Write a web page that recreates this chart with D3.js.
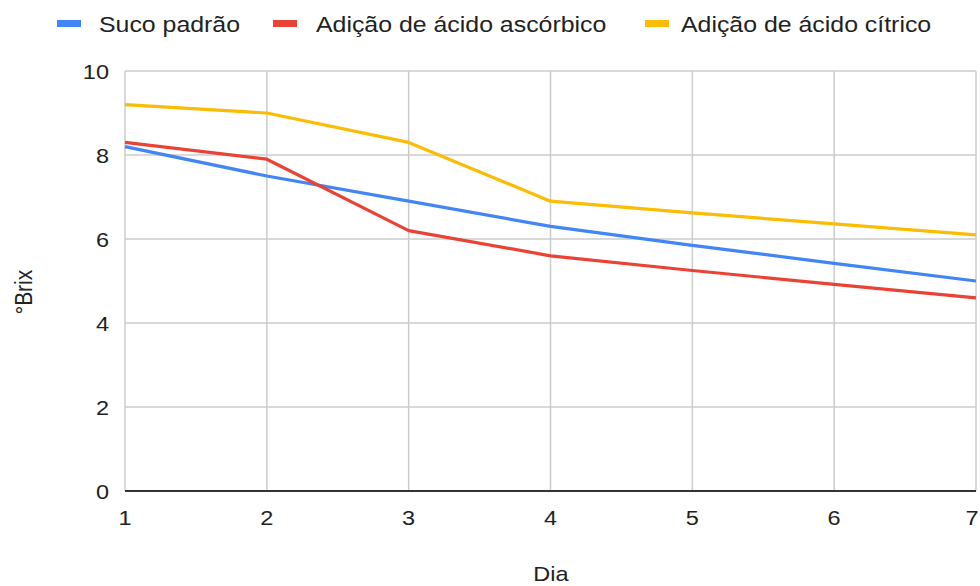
<!DOCTYPE html>
<html><head><meta charset="utf-8">
<script src="https://cdn.jsdelivr.net/npm/d3@7"></script>
<style>body{margin:0;background:#fff}svg{display:block;font-family:Arial,"Liberation Sans",sans-serif}</style>
</head><body><svg id="c" width="980" height="586"></svg>
<script>
const days = [1, 2, 3, 4, 5, 6, 7];
const seriesNames = ["Suco padrão", "Adição de ácido ascórbico", "Adição de ácido cítrico"];
const sucoPadrao = [8.2, 7.5, 6.9, 6.3, 5.85, 5.42, 5.0];
const acidoAscorbico = [8.3, 7.9, 6.2, 5.6, 5.25, 4.92, 4.6];
const acidoCitrico = [9.2, 9.0, 8.3, 6.9, 6.62, 6.36, 6.1];
const yTicks = [0, 2, 4, 6, 8, 10];
const colors = ["#4285F4", "#EA4335", "#FBBC04"];
const xTitle = "Dia", yTitle = "°Brix";

const svg = d3.select("#c");
const m = {l: 125, r: 976, t: 71, b: 491};
const x = d3.scaleLinear().domain([1, 7]).range([m.l, m.r]);
const y = d3.scaleLinear().domain([0, 10]).range([m.b, m.t]);
const sx = 1.12;

// gridlines
svg.append("g").selectAll("line").data(yTicks.filter(d => d > 0)).join("line")
  .attr("x1", m.l).attr("x2", m.r).attr("y1", d => y(d)).attr("y2", d => y(d))
  .attr("stroke", "#cccccc").attr("stroke-width", 1.5);
svg.append("g").selectAll("line").data(days).join("line")
  .attr("x1", d => x(d)).attr("x2", d => x(d)).attr("y1", m.t).attr("y2", m.b)
  .attr("stroke", "#cccccc").attr("stroke-width", 1.5);

// y tick labels
svg.append("g").selectAll("text").data(yTicks).join("text")
  .attr("transform", d => `translate(109,${y(d) + 7.5}) scale(${sx},1)`)
  .attr("text-anchor", "end").attr("font-size", 21).attr("fill", "#222").text(d => d);
// x tick labels (kept inside the canvas)
svg.append("g").selectAll("text").data(days).join("text")
  .attr("transform", d => `translate(${Math.min(x(d), 972)},${525}) scale(${sx},1)`)
  .attr("text-anchor", "middle").attr("font-size", 21).attr("fill", "#222").text(d => d);

// baseline
svg.append("line").attr("x1", m.l).attr("x2", m.r).attr("y1", y(0)).attr("y2", y(0))
  .attr("stroke", "#333").attr("stroke-width", 2);

// lines
const line = d3.line().x((d, i) => x(days[i])).y(d => y(d));
[sucoPadrao, acidoAscorbico, acidoCitrico].forEach((s, i) => {
  svg.append("path").datum(s).attr("d", line).attr("fill", "none")
    .attr("stroke", colors[i]).attr("stroke-width", 3.2).attr("stroke-linejoin", "round");
});

// axis titles
svg.append("text").attr("transform", `translate(551,581) scale(${sx},1)`)
  .attr("text-anchor", "middle").attr("font-size", 21).attr("fill", "#222").text(xTitle);
svg.append("text").attr("transform", `translate(32,292) rotate(-90) scale(1,${sx})`)
  .attr("text-anchor", "middle").attr("font-size", 21).attr("fill", "#222").text(yTitle);

// legend
const swX = [57, 273, 645];
const txX = [99, 316, 681];
const lg = svg.append("g").selectAll("g").data(seriesNames).join("g");
lg.append("rect").attr("x", (d, i) => swX[i]).attr("y", 20).attr("width", 24).attr("height", 7)
  .attr("fill", (d, i) => colors[i]);
lg.append("text").attr("transform", (d, i) => `translate(${txX[i]},32) scale(${sx * 1.01},1)`)
  .attr("font-size", 22).attr("fill", "#222").text(d => d);
</script></body></html>
